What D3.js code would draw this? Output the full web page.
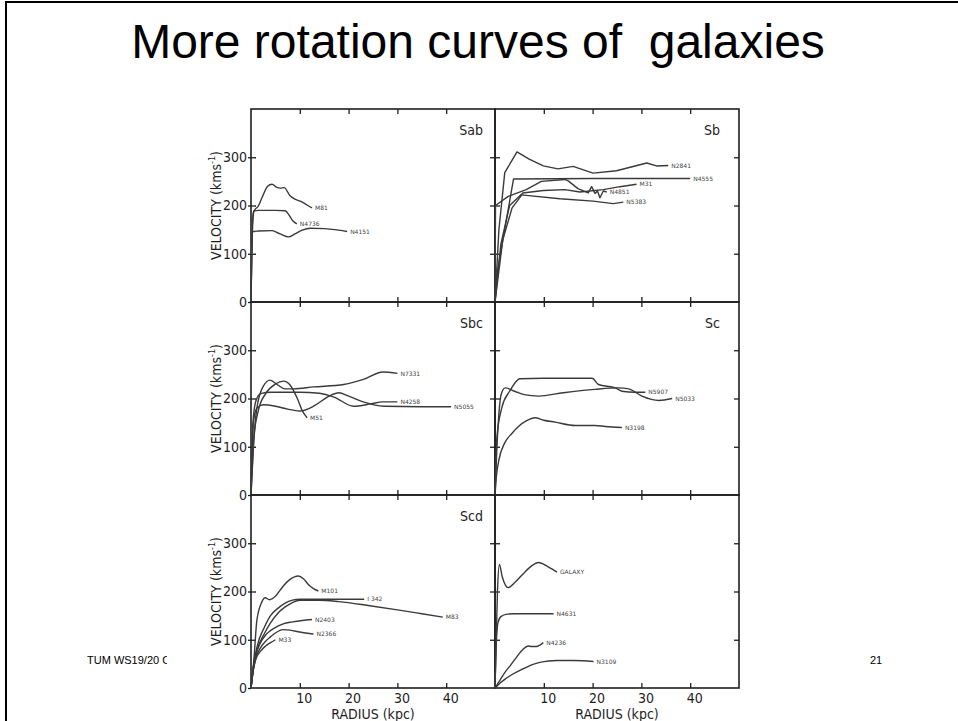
<!DOCTYPE html>
<html><head><meta charset="utf-8">
<script src="https://cdn.jsdelivr.net/npm/d3@7"></script>
<style>body{margin:0;background:#fff}svg{display:block}</style>
</head><body>
<svg id="c" width="958" height="721"></svg>
<script>
// ---------- data ----------
const titleText = "More rotation curves of  galaxies";
const footerLeft = "TUM WS19/20 Co";
const footerRight = "21";
const panelTypes = ["Sab", "Sb", "Sbc", "Sc", "Scd", ""];
const radiusTicks = [10, 20, 30, 40];
const velocityTicks = [0, 100, 200, 300];
const innerVelocityTicks = [100, 200, 300];
const radiusDomain = [0, 50];
const velocityDomain = [0, 400];

// Sab
const M81 = [[0,0],[0.2,120],[0.6,188],[1.5,199],[2.5,222],[3.4,240],[4.3,244],[5.2,238],[6,236],[6.8,237],[8,220],[9,213],[10.1,209],[11.5,201],[12.5,195]];
const N4736 = [[0,0],[0.2,140],[0.5,188],[1.5,190],[5,190],[7,189],[7.8,180],[8.6,168],[9.4,162]];
const N4151 = [[0,0],[0.15,100],[0.4,146],[1.5,147],[4.3,148],[6,141],[7.7,135],[9,141],[10.5,149],[12.2,153],[15,152],[18,149],[19.7,146]];
// Sb
const N2841 = [[0,0],[0.8,150],[2,268],[4.5,311],[7,296],[9.9,282],[12.9,276],[16,281],[20.1,267],[24.9,272],[31.1,288],[33.1,282],[35.5,283]];
const N4555 = [[0,0],[0.6,70],[3.8,255],[20,256],[40,256]];
const M31 = [[0,0],[1.2,120],[3,200],[5.7,226],[9.9,231],[14.3,233],[17.4,228],[22.2,233],[25.6,239],[29,244]];
const N4851 = [[0,0],[0.1,200],[2.7,219],[6.4,233],[9.5,250],[14.3,254],[15,251],[17,235],[19.1,226],[19.8,239],[20.5,225],[21,230],[21.5,216],[22.2,230],[22.9,228]];
const N5383 = [[0,0],[1.6,129],[3.5,195],[5.5,222],[6.4,221],[13.3,214],[20.1,209],[24.2,204],[26.3,207]];
// Sbc
const N7331 = [[0,0],[0.5,100],[1.2,180],[2.5,225],[3.9,238],[5.5,228],[7,220],[8.7,220],[12.8,224],[19,229],[23.2,240],[27,255],[30,252]];
const M51 = [[0,0],[0.6,120],[1.5,175],[3,210],[5,230],[6.7,236],[8,228],[9.5,200],[10.5,175],[11.5,160]];
const N4258 = [[0,0],[0.4,150],[1,195],[2,210],[4,213],[10,213],[14,211],[17,203],[21,184],[24.6,189],[27,193],[30,193]];
const N5055 = [[0,0],[0.5,150],[1.2,180],[2.5,187],[5,184],[7.5,178],[10,174],[13,185],[16,205],[18,212],[20,205],[23,193],[27.3,184],[35,183],[41,183]];
// Sc
const N5907 = [[0,0],[0.4,120],[1.4,181],[3,215],[5.1,241],[10,242],[19.9,242],[21.2,229],[24.7,222],[26,215],[28.8,213],[30.8,213]];
const N5033 = [[0,0],[0.4,100],[1.3,210],[2.1,222],[4,215],[6,208],[8.9,205],[14,212],[20.5,219],[25.3,222],[27.4,220],[30.1,205],[33.6,196],[36.3,200]];
const N3198 = [[0,0],[0.3,40],[0.8,73],[2,108],[3.5,128],[4.8,142],[6.5,154],[8.2,160],[10,155],[12.3,151],[16.4,144],[20.5,144],[22.6,142],[26,140]];
// Scd
const M101 = [[0,0],[0.6,60],[1.2,140],[2.2,178],[2.9,187],[3.8,183],[5,190],[6.5,210],[8,225],[9.7,232],[10.8,226],[11.8,214],[12.8,206],[13.8,201]];
const I342 = [[0,0],[0.5,45],[1.3,88],[2.7,125],[4,150],[5.5,165],[7,176],[8.5,182],[10,184],[16,184],[23.2,184]];
const M83 = [[0,0],[0.5,45],[1.3,80],[2.7,112],[4,135],[5.5,155],[7,168],[8.5,177],[10,182],[14,182],[18,179],[24,171],[30,162],[35,154],[39.3,147]];
const N2403 = [[0,0],[0.5,40],[1,68],[2,95],[3,110],[4,119],[5.5,128],[6.6,133],[8.5,137],[10.5,140],[12.5,142]];
const N2366 = [[0,0],[0.5,38],[1,62],[2,84],[3,97],[4,106],[5,114],[6.6,121],[8,120],[10,116],[12.8,112]];
const M33 = [[0,0],[0.5,40],[1,60],[2,77],[3,87],[4,94],[5,100]];
// Sd / Sm
const GALAXY = [[0,0],[0.5,200],[0.9,256],[1.5,230],[2.7,208],[4,218],[5.8,237],[7.5,253],[8.9,260],[10.9,251],[12.7,240]];
const N4631 = [[0,0],[0.3,100],[0.6,135],[1.2,148],[2.5,153],[4,154],[12,154]];
const N4236 = [[0,0],[1,16],[2,32],[3.1,46],[4.5,65],[5.8,81],[6.8,87],[7.5,86],[8.5,86],[9.2,89],[9.9,94]];
const N3109 = [[0,0],[1,10],[2,18],[3.5,28],[5.8,40],[7.5,48],[9.2,53],[11,56],[12.7,57],[16.1,57],[18,56.5],[20.2,55]];

const panelCurves = [
  [["M81", M81], ["N4736", N4736], ["N4151", N4151]],
  [["N2841", N2841], ["N4555", N4555], ["M31", M31], ["N4851", N4851], ["N5383", N5383]],
  [["N7331", N7331], ["M51", M51], ["N4258", N4258], ["N5055", N5055]],
  [["N5907", N5907], ["N5033", N5033], ["N3198", N3198]],
  [["M101", M101], ["I 342", I342], ["M83", M83], ["N2403", N2403], ["N2366", N2366], ["M33", M33]],
  [["GALAXY", GALAXY], ["N4631", N4631], ["N4236", N4236], ["N3109", N3109]]
];

// ---------- layout ----------
const svg = d3.select("#c");
const ink = "#1e1e1e";
const curveInk = "#3a3a3a";
const narrow = "'Liberation Sans Narrow','DejaVu Sans Condensed','Liberation Sans',Arial,sans-serif";
const colX = [251, 495];
const rowY = [109, 302, 495];
const pW = 244, pH = 193;

// slide border
svg.append("path").attr("d", "M6,721V2H958").attr("fill", "none").attr("stroke", "#000").attr("stroke-width", 2);

// title
svg.append("text").attr("x", 478).attr("y", 58).attr("text-anchor", "middle")
  .style("white-space", "pre")
  .attr("font-family", "'Liberation Sans',Arial,sans-serif").attr("font-size", 48)
  .attr("fill", "#000").text(titleText);

// footer
svg.append("clipPath").attr("id", "fclip").append("rect").attr("x", 0).attr("y", 600).attr("width", 167).attr("height", 121);
svg.append("text").attr("x", 87).attr("y", 664).attr("clip-path", "url(#fclip)")
  .attr("font-family", "'Liberation Sans',Arial,sans-serif").attr("font-size", 11).attr("fill", "#000").text(footerLeft);
svg.append("text").attr("x", 870).attr("y", 664)
  .attr("font-family", "'Liberation Sans',Arial,sans-serif").attr("font-size", 11).attr("fill", "#000").text(footerRight);

panelTypes.forEach((ptype, i) => {
  const row = Math.floor(i / 2), col = i % 2;
  const x0 = colX[col], y0 = rowY[row];
  const xs = d3.scaleLinear().domain(radiusDomain).range([x0, x0 + pW]);
  const ys = d3.scaleLinear().domain(velocityDomain).range([y0 + pH, y0]);
  const g = svg.append("g");

  // inward ticks on all four sides
  const axes = [
    [d3.axisTop(xs).tickValues(radiusTicks), `translate(0,${y0})`],
    [d3.axisBottom(xs).tickValues(radiusTicks), `translate(0,${y0 + pH})`],
    [d3.axisLeft(ys).tickValues(innerVelocityTicks), `translate(${x0},0)`],
    [d3.axisRight(ys).tickValues(innerVelocityTicks), `translate(${x0 + pW},0)`]
  ];
  axes.forEach(([ax, tr]) => {
    const a = g.append("g").attr("transform", tr)
      .call(ax.tickSize(-5).tickSizeOuter(0).tickFormat(""));
    a.select(".domain").remove();
    a.selectAll("line").attr("stroke", ink).attr("stroke-width", 1.3);
  });

  // frame
  g.append("rect").attr("x", x0).attr("y", y0).attr("width", pW).attr("height", pH)
    .attr("fill", "none").attr("stroke", ink).attr("stroke-width", 1.6);

  // left labels
  if (col === 0) {
    const a = g.append("g").attr("transform", `translate(${x0},0)`)
      .call(d3.axisLeft(ys).tickValues(velocityTicks).tickSize(3).tickPadding(1));
    a.select(".domain").remove();
    a.selectAll("line").attr("stroke", ink).attr("stroke-width", 1.3);
    a.selectAll("text").attr("font-family", narrow).attr("font-size", 14).attr("fill", ink);
    g.append("text")
      .attr("transform", `translate(${x0 - 30},${y0 + pH / 2}) rotate(-90)`)
      .attr("text-anchor", "middle")
      .attr("font-family", narrow).attr("font-size", 14).attr("fill", ink)
      .call(t => {
        t.append("tspan").text("VELOCITY (kms");
        t.append("tspan").attr("font-size", 9).attr("dy", -6).text("-1");
        t.append("tspan").attr("dy", 6).text(")");
      });
  }
  // bottom labels
  if (row === 2) {
    const a = g.append("g").attr("transform", `translate(0,${y0 + pH})`)
      .call(d3.axisBottom(xs).tickValues(radiusTicks).tickSize(0).tickPadding(5));
    a.select(".domain").remove();
    a.selectAll("text").attr("font-family", narrow).attr("font-size", 14).attr("fill", ink).attr("dx", 4);
    g.append("text").attr("x", x0 + pW / 2).attr("y", 719).attr("text-anchor", "middle")
      .attr("font-family", narrow).attr("font-size", 14).attr("fill", ink).text("RADIUS (kpc)");
  }

  // type label
  if (ptype) {
    g.append("text").attr("x", col === 0 ? x0 + pW - 12 : x0 + pW - 19).attr("y", y0 + 26)
      .attr("text-anchor", "end").attr("font-family", narrow).attr("font-size", 14)
      .attr("fill", ink).text(ptype);
  }

  // curves
  const curve = i === 1 ? d3.curveLinear : d3.curveMonotoneX;
  const line = d3.line().x(d => xs(d[0])).y(d => ys(d[1])).curve(curve);
  panelCurves[i].forEach(([name, pts]) => {
    g.append("path").attr("d", line(pts)).attr("fill", "none")
      .attr("stroke", curveInk).attr("stroke-width", 1.4).attr("stroke-linejoin", "round");
    const last = pts[pts.length - 1];
    g.append("text").attr("x", xs(last[0]) + 3).attr("y", ys(last[1]) + 2.2)
      .attr("font-family", "'DejaVu Sans',sans-serif").attr("font-size", 6)
      .attr("fill", "#444").text(name);
  });
});
</script>
</body></html>
